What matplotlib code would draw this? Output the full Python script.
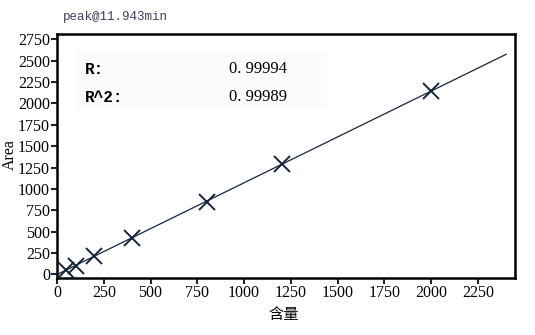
import numpy as np
import matplotlib.pyplot as plt
from matplotlib.patches import Rectangle

# calibration points: amount vs peak area
conc = [50, 100, 200, 400, 800, 1200, 2000]
area = [52, 103, 218, 428, 850, 1291, 2145]
r_val = "0. 99994"
r2_val = "0. 99989"
xticks = [0, 250, 500, 750, 1000, 1250, 1500, 1750, 2000, 2250]
yticks = [0, 250, 500, 750, 1000, 1250, 1500, 1750, 2000, 2250, 2500, 2750]

navy = '#16263a'
serif = ['Liberation Serif', 'DejaVu Serif']

fig = plt.figure(figsize=(5.35, 3.35), dpi=100)
ax = fig.add_axes([0.1065, 0.170, 0.856, 0.730])

# linear fit through the standards
k, b = np.polyfit(conc, area, 1)
xf = np.array([0, 2400])
ax.plot(xf, k * xf + b, color=navy, lw=0.9, zorder=2)
ax.plot(conc, area, ls='none', marker='x', ms=12, mew=1.4, color=navy, zorder=3)

ax.set_xlim(0, 2447)
ax.set_ylim(-43, 2818)
ax.set_xticks(xticks)
ax.set_yticks(yticks)
ax.set_xticklabels([str(v) for v in xticks], family=serif, fontsize=11.5)
ax.set_yticklabels([str(v) for v in yticks], family=serif, fontsize=11.5)
ax.tick_params(direction='out', length=4, width=1.5, color=navy, pad=1)
for s in ax.spines.values():
    s.set_linewidth(1.8)
    s.set_color('black')

ax.set_xlabel('含量', family=['Noto Sans CJK SC', 'DejaVu Sans'], fontsize=11,
              labelpad=-1)
ax.xaxis.set_label_coords(0.495, -0.115)
ax.set_ylabel('Area', family=serif, fontsize=11.5, labelpad=-2)
ax.yaxis.set_label_coords(-0.086, 0.505)

# stats box
ax.add_patch(Rectangle((0.039, 0.687), 0.551, 0.246, transform=ax.transAxes,
                       facecolor='#fbfbfb', edgecolor='none', zorder=1))
ax.text(0.062, 0.853, 'R:', transform=ax.transAxes, family='Liberation Mono',
        weight='bold', fontsize=11.5, va='center')
ax.text(0.062, 0.740, 'R^2:', transform=ax.transAxes, family='Liberation Mono',
        weight='bold', fontsize=11.5, va='center')
ax.text(0.375, 0.853, r_val, transform=ax.transAxes, family=serif,
        fontsize=12, va='center')
ax.text(0.375, 0.740, r2_val, transform=ax.transAxes, family=serif,
        fontsize=12, va='center')

fig.text(0.118, 0.948, 'peak@11.943min', family='Liberation Mono', fontsize=9,
         color='#3a4258', va='center')

fig.savefig('out.png', dpi=100, facecolor='white')
